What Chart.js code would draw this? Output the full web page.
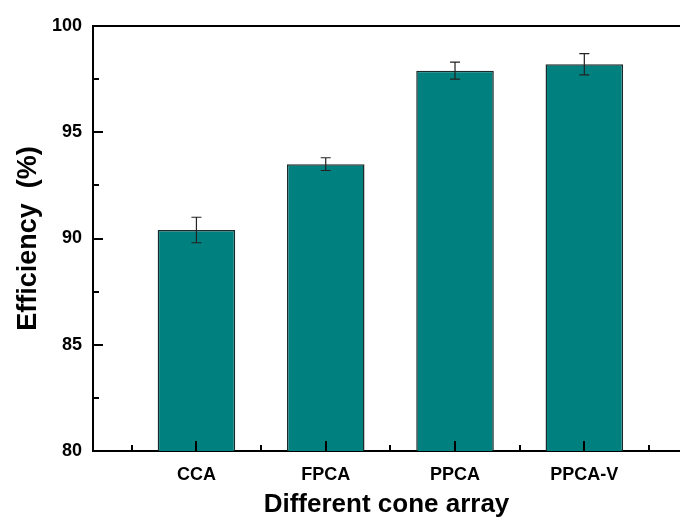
<!DOCTYPE html>
<html>
<head>
<meta charset="utf-8">
<script src="https://cdn.jsdelivr.net/npm/chart.js@4.4.0/dist/chart.umd.min.js"></script>
<style>
  html, body { margin: 0; padding: 0; background: #fff; }
</style>
</head>
<body>
<canvas id="effChart" width="680" height="522"></canvas>
<script>
const categories = ['CCA', 'FPCA', 'PPCA', 'PPCA-V'];
const positions = [1, 2, 3, 4];
const efficiency = [90.4, 93.5, 97.9, 98.2];
const errors = [0.6, 0.3, 0.4, 0.5];
const yTicks = [80, 85, 90, 95, 100];
const yMinorTicks = [82.5, 87.5, 92.5, 97.5];
const xMinorTicks = [0.5, 1.5, 2.5, 3.5, 4.5];

const FONT = '"Liberation Sans", Arial, sans-serif';

// inward ticks, top frame line and error bars
const decorPlugin = {
    id: 'decor',
    afterDatasetsDraw(chart) {
        const ctx = chart.ctx;
        const area = chart.chartArea;
        const x = chart.scales.x;
        const y = chart.scales.y;
        ctx.save();
        ctx.strokeStyle = '#000';
        ctx.lineWidth = 2;
        ctx.beginPath();
        ctx.moveTo(area.left - 1, area.top);
        ctx.lineTo(area.right, area.top);
        ctx.stroke();

        yTicks.forEach(v => {
            const py = Math.round(y.getPixelForValue(v));
            ctx.beginPath();
            ctx.moveTo(area.left, py);
            ctx.lineTo(area.left + 10, py);
            ctx.stroke();
        });
        yMinorTicks.forEach(v => {
            const py = Math.round(y.getPixelForValue(v));
            ctx.beginPath();
            ctx.moveTo(area.left, py);
            ctx.lineTo(area.left + 6, py);
            ctx.stroke();
        });
        positions.forEach(v => {
            const px = Math.round(x.getPixelForValue(v));
            ctx.beginPath();
            ctx.moveTo(px, area.bottom);
            ctx.lineTo(px, area.bottom - 10);
            ctx.stroke();
        });
        xMinorTicks.forEach(v => {
            const px = Math.round(x.getPixelForValue(v));
            ctx.beginPath();
            ctx.moveTo(px, area.bottom);
            ctx.lineTo(px, area.bottom - 6);
            ctx.stroke();
        });

        // error bars
        ctx.strokeStyle = '#222';
        ctx.lineWidth = 1.2;
        efficiency.forEach((v, i) => {
            const px = x.getPixelForValue(positions[i]);
            const top = y.getPixelForValue(v + errors[i]);
            const bot = y.getPixelForValue(v - errors[i]);
            ctx.beginPath();
            ctx.moveTo(px, top);
            ctx.lineTo(px, bot);
            ctx.moveTo(px - 5, top);
            ctx.lineTo(px + 5, top);
            ctx.moveTo(px - 5, bot);
            ctx.lineTo(px + 5, bot);
            ctx.stroke();
        });
        ctx.restore();
    }
};

const ctx = document.getElementById('effChart').getContext('2d');
const effChart = new Chart(ctx, {
    type: 'bar',
    data: {
        datasets: [{
            label: 'Efficiency',
            data: positions.map((p, i) => ({ x: p, y: efficiency[i] })),
            backgroundColor: '#00807E',
            borderColor: '#1b2b2b',
            borderWidth: 1.5,
            borderSkipped: 'bottom',
            categoryPercentage: 1,
            barPercentage: 0.6
        }]
    },
    options: {
        responsive: false,
        animation: false,
        layout: { padding: { top: 26, right: 0, left: 0, bottom: 0 } },
        scales: {
            x: {
                type: 'linear',
                offset: false,
                min: 0.2,
                max: 4.74,
                afterBuildTicks: scale => {
                    scale.ticks = positions.map(v => ({ value: v }));
                },
                afterFit: scale => { scale.height = 71; },
                ticks: {
                    callback: (v) => categories[positions.indexOf(v)] || '',
                    color: '#000',
                    font: { family: FONT, size: 18, weight: 'bold' },
                    padding: 13
                },
                grid: { display: false, drawTicks: false },
                border: { display: true, color: '#000', width: 2 },
                title: {
                    display: true,
                    text: 'Different cone array',
                    color: '#000',
                    font: { family: FONT, size: 26, weight: 'bold' },
                    padding: { top: 0, bottom: 2 }
                }
            },
            y: {
                min: 80,
                max: 100,
                afterBuildTicks: scale => {
                    scale.ticks = yTicks.map(v => ({ value: v }));
                },
                afterFit: scale => { scale.width = 93; },
                ticks: {
                    color: '#000',
                    font: { family: FONT, size: 18, weight: 'bold' },
                    padding: 11
                },
                grid: { display: false, drawTicks: false },
                border: { display: true, color: '#000', width: 2 },
                title: {
                    display: true,
                    text: 'Efficiency  (%)',
                    color: '#000',
                    font: { family: FONT, size: 27, weight: 'bold' },
                    padding: { top: 12, bottom: 0 }
                }
            }
        },
        plugins: {
            legend: { display: false },
            tooltip: { enabled: false }
        }
    },
    plugins: [decorPlugin]
});
</script>
</body>
</html>
